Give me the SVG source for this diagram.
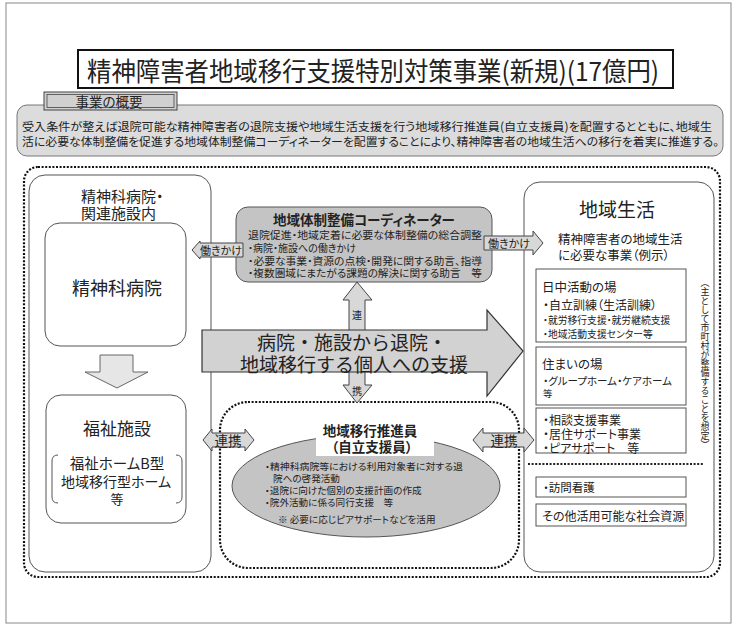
<svg xmlns="http://www.w3.org/2000/svg" width="740" height="626" viewBox="0 0 740 626">
<style>
text{font-family:"Noto Sans CJK JP","Noto Sans CJK SC",sans-serif;fill:#222;font-feature-settings:"palt" 1;}
.c{text-anchor:middle;dominant-baseline:central;}
.l{dominant-baseline:central;}
.b{font-weight:bold;}
.np{font-feature-settings:normal;}
.panel{fill:#fff;stroke:#555;stroke-width:1;}
.box{fill:#fff;stroke:#555;stroke-width:1;}
.dot{fill:none;stroke:#111;stroke-width:2.2;stroke-dasharray:2 1.6;}
.arr{fill:#d8d8d8;stroke:#444;stroke-width:1;}
</style>
<rect x="6" y="3" width="725" height="620" fill="#fff" stroke="#888" stroke-width="1"/>

<g id="title">
<rect x="78" y="50" width="595" height="38" fill="#fff" stroke="#111" stroke-width="2"/>
<text class="c" x="373" y="69" font-size="26" textLength="572" lengthAdjust="spacingAndGlyphs">精神障害者地域移行支援特別対策事業(新規)(17億円)</text>
</g>

<g id="summary">
<rect x="17" y="105" width="706" height="51" rx="10" fill="#dcdcdc" stroke="#777"/>
<rect x="44" y="92" width="133" height="18" fill="#d0d0d0" stroke="#444"/>
<rect x="47" y="94.5" width="127" height="13" fill="none" stroke="#444" stroke-width="0.8"/>
<text class="c" x="109" y="101" font-size="13.5">事業の概要</text>
<text class="l" x="22" y="126" font-size="11.5" textLength="690" lengthAdjust="spacingAndGlyphs">受入条件が整えば退院可能な精神障害者の退院支援や地域生活支援を行う地域移行推進員(自立支援員)を配置するとともに、地域生</text>
<text class="l" x="22" y="141" font-size="11.5" textLength="697" lengthAdjust="spacingAndGlyphs">活に必要な体制整備を促進する地域体制整備コーディネーターを配置することにより、精神障害者の地域生活への移行を着実に推進する。</text>
</g>

<rect id="frame" class="dot" x="24" y="167" width="696" height="410" rx="14"/>

<g id="hospital-area">
<rect class="panel" x="29" y="175" width="182" height="397" rx="16"/>
<text class="l" x="81" y="195" font-size="15">精神科病院・</text>
<text class="l" x="81" y="212" font-size="15">関連施設内</text>
</g>

<g id="hospital">
<rect class="box" x="45" y="223" width="141" height="123" rx="15"/>
<text class="c" x="117" y="287" font-size="18">精神科病院</text>
</g>

<g id="welfare">
<rect class="box" x="46" y="395" width="140" height="128" rx="15"/>
<text class="c" x="117" y="427" font-size="17">福祉施設</text>
<path d="M58,455 Q52,455 52,461 V497 Q52,503 58,503 M176,455 Q182,455 182,461 V497 Q182,503 176,503" fill="none" stroke="#555"/>
<text class="c" x="117" y="462" font-size="14.5">福祉ホームB型</text>
<text class="c" x="116" y="481" font-size="14">地域移行型ホーム</text>
<text class="c" x="117" y="498" font-size="13">等</text>
</g>

<g id="coordinator">
<rect x="236" y="207" width="256" height="75" rx="12" fill="#c4c4c4" stroke="#555"/>
<text class="c b" x="364" y="219" font-size="13.5">地域体制整備コーディネーター</text>
<text class="l" x="248" y="234" font-size="10" textLength="234" lengthAdjust="spacingAndGlyphs">退院促進・地域定着に必要な体制整備の総合調整</text>
<text class="l" x="248" y="247" font-size="10">・病院・施設への働きかけ</text>
<text class="l" x="248" y="260" font-size="10" textLength="234" lengthAdjust="spacingAndGlyphs">・必要な事業・資源の点検・開発に関する助言、指導</text>
<text class="l" x="248" y="272" font-size="10" textLength="234" lengthAdjust="spacingAndGlyphs">・複数圏域にまたがる課題の解決に関する助言　等</text>
</g>

<g id="promoter">
<rect class="dot" x="220" y="402" width="299" height="166" rx="28"/>
<ellipse cx="366" cy="486" rx="134" ry="51" fill="#c4c4c4" stroke="#555"/>
<rect x="316" y="418" width="118" height="38" fill="#fff"/>
<text class="c b" x="370" y="430" font-size="13.5">地域移行推進員</text>
<text class="c b" x="372" y="446" font-size="13.5">（自立支援員）</text>
<text class="l" x="265" y="466" font-size="9.6" textLength="198" lengthAdjust="spacingAndGlyphs">・精神科病院等における利用対象者に対する退</text>
<text class="l" x="273" y="478" font-size="9.6">院への啓発活動</text>
<text class="l" x="265" y="490" font-size="9.6">・退院に向けた個別の支援計画の作成</text>
<text class="l" x="265" y="502" font-size="9.6">・院外活動に係る同行支援　等</text>
<text class="l" x="278" y="519" font-size="9.6">※ 必要に応じピアサポートなどを活用</text>
</g>

<g id="community">
<rect class="panel" x="524" y="182" width="190" height="390" rx="16"/>
<text class="c" x="617" y="208" font-size="19">地域生活</text>
<text class="l" x="558" y="238" font-size="12.5">精神障害者の地域生活</text>
<text class="l" x="558" y="254" font-size="12.5">に必要な事業（例示）</text>
<text x="705" y="278" font-size="9" style="writing-mode:vertical-rl;font-feature-settings:normal">（主として市町村が整備することを想定）</text>
</g>

<g id="day-activity">
<rect class="box" x="536" y="269" width="150" height="73"/>
<text class="l" x="542" y="286" font-size="12.5">日中活動の場</text>
<text class="l" x="543" y="304" font-size="12">・自立訓練（生活訓練）</text>
<text class="l" x="543" y="320" font-size="9.8">・就労移行支援・就労継続支援</text>
<text class="l" x="543" y="334" font-size="9.8">・地域活動支援センター等</text>
</g>

<g id="housing">
<rect class="box" x="536" y="347" width="150" height="58"/>
<text class="l" x="542" y="363" font-size="12.5">住まいの場</text>
<text class="l" x="543" y="380" font-size="10.5">・グループホーム・ケアホーム</text>
<text class="l" x="543" y="393" font-size="9.5">等</text>
</g>

<g id="consult">
<rect class="box" x="536" y="408" width="150" height="45"/>
<text class="l" x="543" y="419" font-size="12">・相談支援事業</text>
<text class="l" x="543" y="433" font-size="12">・居住サポート事業</text>
<text class="l" x="543" y="447" font-size="12">・ピアサポート　等</text>
</g>

<line x1="528" y1="464" x2="703" y2="464" stroke="#222" stroke-width="2" stroke-dasharray="2 1.6"/>

<g id="nursing">
<rect class="box" x="536" y="477" width="150" height="20"/>
<text class="l" x="543" y="487" font-size="11.5">・訪問看護</text>
</g>

<g id="other">
<rect class="box" x="536" y="504" width="150" height="22"/>
<text class="l" x="542" y="515" font-size="12">その他活用可能な社会資源</text>
</g>

<g id="connectors">
<path d="M117,388 L148,372 H133 V355 H100 V372 H85 Z" fill="#e6e6e6" stroke="#666"/>
<path class="arr" d="M192,250 L200,241 V243 H243 V257 H200 V259 Z"/>
<text class="c" x="221" y="250" font-size="11">働きかけ</text>
<path class="arr" d="M543,243 L533,231 V236 H484 V250 H533 V255 Z"/>
<text class="c" x="509" y="243" font-size="11">働きかけ</text>
<path class="arr" d="M357,282 L372,300 H365 V385 H372 L357,403 L343,385 H349 V300 H343 Z"/>
<text class="c" x="357" y="314" font-size="10">連</text>
<text class="c" x="357" y="390" font-size="10">携</text>
<path d="M202,330 H487 V310 L523,351 L487,396 V372 H202 Z" fill="#d2d2d2" stroke="#333" stroke-width="1.2"/>
<text class="c np" x="352" y="341" font-size="19">病院・施設から退院・</text>
<text class="c np" x="354" y="363" font-size="19">地域移行する個人への支援</text>
<path class="arr" d="M203,440 L212,429 V433 H245 V429 L254,440 L245,451 V447 H212 V451 Z"/>
<text class="c" x="228" y="440" font-size="13.5">連携</text>
<path class="arr" d="M473,440 L483,428 V433 H524 V428 L534,440 L524,452 V447 H483 V452 Z"/>
<text class="c" x="504" y="440" font-size="13.5">連携</text>
</g>
</svg>
